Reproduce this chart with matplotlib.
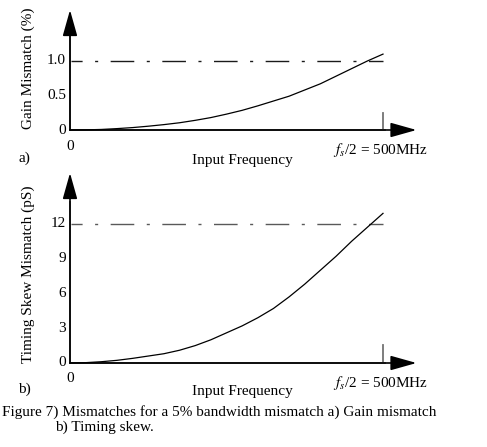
import matplotlib
matplotlib.use("Agg")
import matplotlib.pyplot as plt

W, H = 487, 447

freq = [0, 25, 50, 75, 100, 125, 150, 175, 200, 225, 250,
        275, 300, 325, 350, 375, 400, 425, 450, 475, 500]
gain = [0, 0.002, 0.008, 0.02, 0.035, 0.055, 0.078, 0.105, 0.14, 0.18, 0.23,
        0.285, 0.35, 0.42, 0.49, 0.58, 0.67, 0.78, 0.89, 1.0, 1.1]
skew = [0, 0.03, 0.11, 0.23, 0.4, 0.6, 0.8, 1.1, 1.5, 2.0, 2.6,
        3.2, 3.9, 4.7, 5.7, 6.8, 8.0, 9.2, 10.5, 11.7, 12.9]

gain_ticks = [0, 0.5, 1.0]
gain_tick_labels = ["0", "0.5", "1.0"]
skew_ticks = [0, 3, 6, 9, 12]
gain_limit = 1.0
skew_limit = 12

plt.rcParams["font.family"] = ["Liberation Serif", "DejaVu Serif"]
plt.rcParams["mathtext.fontset"] = "stix"
plt.rcParams["lines.scale_dashes"] = False

FS = 11
AXC = "0.35"
fig = plt.figure(figsize=(W / 100, H / 100), dpi=100)


def fx(x):
    return x / W


def fy(y):
    return 1 - y / H


def panel(top, zero, ytop_val, ys, ticks, labels, limit, tick_h, dash_c,
          ylabel, ylab_y, tag, row_y):
    # axes box in pixels: x 70..420, y top..zero
    ax = fig.add_axes([fx(70), fy(zero), fx(350), (zero - top) / H])
    xmax = 500 * 350 / 313
    ax.set_xlim(0, xmax)
    ax.set_ylim(0, ytop_val)
    ax.axis("off")

    arrow = dict(arrowstyle="-|>,head_length=1.6,head_width=0.45",
                 mutation_scale=10, color="black", lw=1.2, shrinkA=0, shrinkB=0)
    ax.annotate("", xy=(xmax * 0.99, 0), xytext=(0, 0), arrowprops=arrow,
                annotation_clip=False)
    ax.annotate("", xy=(0, ytop_val), xytext=(0, 0), arrowprops=arrow,
                annotation_clip=False)
    ax.plot([0, xmax * 0.9], [0, 0], color=AXC, lw=1.3, clip_on=False)
    ax.plot([0, 0], [0, ytop_val * 0.85], color=AXC, lw=1.3, clip_on=False)

    ax.plot([500, 500], [0, tick_h], color="0.45", lw=1.3)
    # dash-dot limit line; pattern starts part-way through a long dash
    ax.plot([2, 500], [limit, limit], color=dash_c, lw=1.0,
            ls=(20.2, (2.2, 9, 17, 9)))
    ax.plot(freq, ys, color="black", lw=0.9, clip_on=False)

    for t, lab in zip(ticks, labels):
        ax.text(-4 * xmax / 350, t, lab, ha="right", va="center", fontsize=FS)

    fig.text(fx(28), fy(ylab_y), ylabel, rotation=90, ha="center", va="center", fontsize=FS)
    fig.text(fx(70), fy(zero + 16), "0", ha="center", va="center", fontsize=FS)
    fig.text(fx(24), fy(row_y), tag, ha="center", va="center", fontsize=FS)
    fig.text(fx(242), fy(row_y + 2), "Input Frequency", ha="center", va="center", fontsize=FS)
    fig.text(fx(428), fy(zero + 20), r"$f_s$/2 = 500MHz", ha="right", va="center", fontsize=FS)
    return ax


panel(10, 130, 120 / 69, gain, gain_ticks, gain_tick_labels, gain_limit, 0.25, "0.1",
      "Gain Mismatch (%)", 68, "a)", 158)
panel(173, 363, 190 / 11.6, skew, skew_ticks, [str(t) for t in skew_ticks],
      skew_limit, 1.55, "0.35", "Timing Skew Mismatch (pS)", 274, "b)", 389)

fig.text(fx(2), fy(412), "Figure 7) Mismatches for a 5% bandwidth mismatch a) Gain mismatch",
         ha="left", va="center", fontsize=FS)
fig.text(fx(55), fy(427), "b) Timing skew.", ha="left", va="center", fontsize=FS)

fig.savefig("out.png", dpi=100)
